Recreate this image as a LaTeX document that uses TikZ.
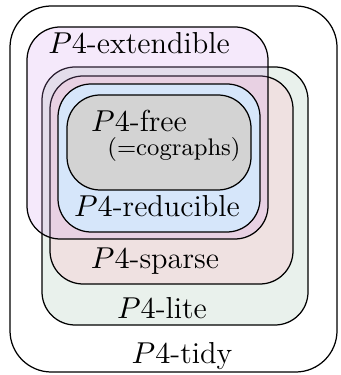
\documentclass[tikz,border=0pt]{standalone}
\usepackage{tikz}

\definecolor{litecol}{RGB}{233,241,236}
\definecolor{sparsecol}{RGB}{239,225,225}
\definecolor{extcol}{RGB}{205,145,235}
\definecolor{redcol}{RGB}{214,230,250}
\definecolor{freecol}{RGB}{211,211,211}

\begin{document}
\begin{tikzpicture}[x=0.3626pt, y=-0.3626pt]
   \tikzstyle{region}=[draw=black, line width=0.45pt, rounded corners=12pt]
   \tikzstyle{every node}=[inner sep=0pt, font=\fontsize{11}{13}\selectfont]

\useasboundingbox (0,0) rectangle (340,375);

% classes, outermost first
\draw[region, rounded corners=15pt, fill=white] (10,6) rectangle (337,372);
\draw[region, fill=litecol] (42,67) rectangle (308,325);
\draw[region, fill=sparsecol] (50,76) rectangle (293,284);
\draw[region, fill=extcol, fill opacity=0.2] (27,27) rectangle (268,239);
\draw[region, fill=redcol] (58,84) rectangle (260,232);
\draw[region, fill=freecol] (67,95) rectangle (251,190);

% names
\node[anchor=base] (ext) at (139,54) {$P4$-extendible};
\node[anchor=base] (free) at (139,132) {$P4$-free};
\node[anchor=base, font=\fontsize{8.7}{10}\selectfont] (cog) at (174,156) {(=cographs)};
\node[anchor=base] (red) at (157,217) {$P4$-reducible};
\node[anchor=base] (sparse) at (155,268) {$P4$-sparse};
\node[anchor=base] (lite) at (162,318) {$P4$-lite};
\node[anchor=base] (tidy) at (182,363) {$P4$-tidy};

\end{tikzpicture}
\end{document}
